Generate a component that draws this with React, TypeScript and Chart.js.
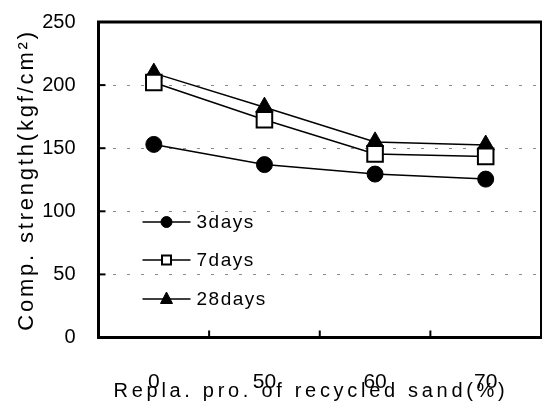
import React, { useEffect, useRef } from 'react';
import { Chart, registerables } from 'chart.js';

Chart.register(...registerables);

const categories = ['0', '50', '60', '70'];
const seriesNames = ['3days', '7days', '28days'];
const days3 = [153, 137, 129.5, 125.5];
const days7 = [202, 172.5, 145.5, 143.5];
const days28 = [209.5, 182.5, 155, 152.5];
const yTickValues = [0, 50, 100, 150, 200, 250];
const xTitle = 'Repla. pro. of recycled sand(%)';
const yTitle = 'Comp. strength(kgf/cm²)';

const FONT = '"Liberation Sans", Arial, Helvetica, sans-serif';

const framePlugin = {
  id: 'frameAndText',
  afterDatasetsDraw(chart: any) {
    const { ctx, chartArea } = chart;
    const { left, right, top, bottom } = chartArea;
    const xs = chart.scales.x;
    const ys = chart.scales.y;
    ctx.save();
    ctx.strokeStyle = '#000';
    ctx.lineCap = 'square';
    ctx.lineWidth = 3;
    ctx.beginPath();
    ctx.moveTo(right, top);
    ctx.lineTo(left, top);
    ctx.lineTo(left, bottom);
    ctx.lineTo(right, bottom);
    ctx.stroke();
    ctx.lineWidth = 2;
    ctx.beginPath();
    ctx.moveTo(right, top);
    ctx.lineTo(right, bottom);
    ctx.stroke();
    ctx.lineWidth = 2;
    ctx.lineCap = 'butt';
    yTickValues.slice(1, -1).forEach((v) => {
      const py = ys.getPixelForValue(v);
      ctx.beginPath();
      ctx.moveTo(left, py);
      ctx.lineTo(left + 7, py);
      ctx.stroke();
    });
    for (let i = 0; i < categories.length - 1; i++) {
      const px = (xs.getPixelForValue(i) + xs.getPixelForValue(i + 1)) / 2;
      ctx.beginPath();
      ctx.moveTo(px, bottom);
      ctx.lineTo(px, bottom - 7);
      ctx.stroke();
    }
    const legendX1 = left + 44;
    const legendX2 = left + 92;
    const legendRows = [222, 260, 299];
    chart.data.datasets.forEach((ds: any, i: number) => {
      const y = legendRows[i];
      ctx.lineWidth = 1.5;
      ctx.strokeStyle = '#000';
      ctx.beginPath();
      ctx.moveTo(legendX1, y);
      ctx.lineTo(legendX2, y);
      ctx.stroke();
      const cx = (legendX1 + legendX2) / 2;
      ctx.fillStyle = ds.pointBackgroundColor;
      ctx.lineWidth = ds.pointBorderWidth;
      ctx.beginPath();
      if (ds.pointStyle === 'circle') {
        ctx.arc(cx, y, 5.5, 0, Math.PI * 2);
      } else if (ds.pointStyle === 'rect') {
        ctx.rect(cx - 4.5, y - 4.5, 9, 9);
      } else {
        ctx.moveTo(cx, y - 7);
        ctx.lineTo(cx + 6, y + 4.5);
        ctx.lineTo(cx - 6, y + 4.5);
        ctx.closePath();
      }
      ctx.fill();
      ctx.stroke();
      ctx.fillStyle = '#000';
      ctx.font = `19px ${FONT}`;
      (ctx as any).letterSpacing = '1.5px';
      ctx.textAlign = 'left';
      ctx.textBaseline = 'middle';
      ctx.fillText(seriesNames[i], legendX2 + 6, y + 1);
      (ctx as any).letterSpacing = '0px';
    });
    ctx.fillStyle = '#000';
    ctx.font = `20px ${FONT}`;
    (ctx as any).letterSpacing = '3.7px';
    ctx.textAlign = 'center';
    ctx.textBaseline = 'alphabetic';
    ctx.fillText(xTitle, 311, 397);
    ctx.save();
    ctx.translate(33, 180);
    ctx.rotate(-Math.PI / 2);
    ctx.font = `22px ${FONT}`;
    (ctx as any).letterSpacing = '2.8px';
    ctx.fillText(yTitle, 0, 0);
    ctx.restore();
    ctx.restore();
  },
};

export default function App() {
  const ref = useRef<HTMLCanvasElement>(null);
  useEffect(() => {
    const canvas = ref.current!;
    const mk = (label: string, values: number[], style: string, radius: number, bg: string, bw: number) => ({
      label,
      data: values,
      borderColor: '#000',
      borderWidth: 1.5,
      pointStyle: style,
      pointRadius: radius,
      pointBackgroundColor: bg,
      pointBorderColor: '#000',
      pointBorderWidth: bw,
      tension: 0,
    });
    const chart = new Chart(canvas, {
      type: 'line',
      data: {
        labels: categories,
        datasets: [
          mk(seriesNames[0], days3, 'circle', 8, '#000', 1),
          mk(seriesNames[1], days7, 'rect', 11, '#fff', 2),
          mk(seriesNames[2], days28, 'triangle', 10, '#000', 1),
        ] as any,
      },
      options: {
        responsive: false,
        animation: false,
        devicePixelRatio: 1,
        layout: { autoPadding: false, padding: { top: 22, right: 1, left: 0, bottom: 0 } },
        plugins: { legend: { display: false }, tooltip: { enabled: false } },
        scales: {
          x: {
            type: 'category',
            offset: true,
            afterFit: (s: any) => {
              s.height = 65.5;
              s.paddingLeft = 0;
              s.paddingRight = 0;
            },
            grid: { display: false, drawTicks: false },
            border: { display: false },
            ticks: {
              padding: 32,
              maxRotation: 0,
              minRotation: 0,
              autoSkip: false,
              color: '#000',
              font: { size: 21, family: FONT },
            },
          },
          y: {
            min: 0,
            max: 250,
            afterFit: (s: any) => {
              s.width = 98.5;
              s.paddingTop = 0;
              s.paddingBottom = 0;
            },
            afterBuildTicks: (s: any) => {
              s.ticks = yTickValues.map((v) => ({ value: v }));
            },
            grid: { color: '#8a8a8a', lineWidth: 1, drawTicks: false },
            border: { display: false, dash: [3, 11] },
            ticks: { padding: 23, color: '#000', font: { size: 20, family: FONT } },
          },
        },
      } as any,
      plugins: [framePlugin],
    });
    return () => chart.destroy();
  }, []);
  return (
    <div style={{ position: 'absolute', left: 0, top: 0, width: 542, height: 403, background: '#fff' }}>
      <canvas ref={ref} width={542} height={403} style={{ width: 542, height: 403 }} />
    </div>
  );
}
